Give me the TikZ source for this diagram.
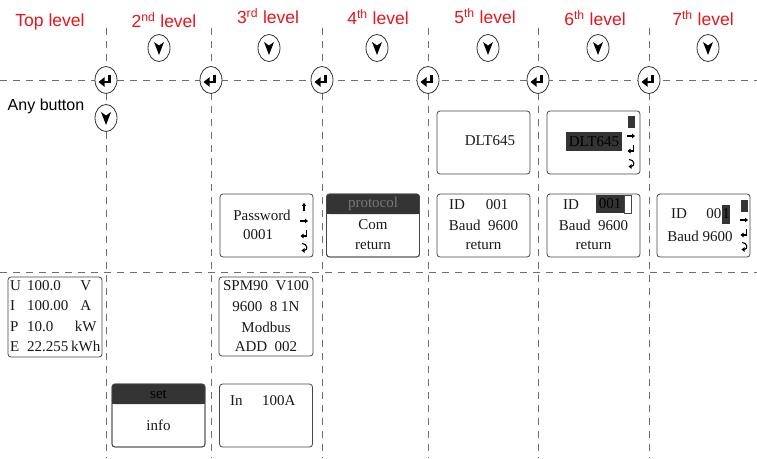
\documentclass[tikz,border=0pt]{standalone}
\usepackage{fontspec}
\setmainfont{Liberation Serif}
\newfontfamily\lsans{Liberation Sans}
\usetikzlibrary{shapes.geometric,arrows.meta}
\definecolor{lvred}{RGB}{230,22,28}
\definecolor{hdr}{RGB}{52,52,52}
\definecolor{gridc}{RGB}{110,110,110}
\definecolor{framec}{RGB}{70,70,70}
\definecolor{hdrtxt}{RGB}{120,120,120}
\begin{document}
\begin{tikzpicture}[x=1pt,y=-1pt,
  gridline/.style={draw=gridc, line width=0.9pt, dash pattern=on 7pt off 6pt},
  btn/.style={ellipse, draw=black!80, line width=0.8pt, fill=white, minimum width=22pt, minimum height=27pt, inner sep=0pt},
  lvl/.style={font=\lsans\fontsize{17.5}{20}\selectfont, text=lvred, inner sep=0pt},
  scr/.style={draw=framec, line width=0.8pt, rounded corners=3pt, fill=white, minimum width=93pt, minimum height=63pt, inner sep=0pt, outer sep=0pt},
  txt/.style={font=\fontsize{15}{18}\selectfont, text=black!90, inner sep=0pt},
  hl/.style={fill=hdr, inner sep=0pt},
  ic/.style={line width=1.1pt, -{Triangle[length=3pt,width=4.5pt]}},
  downbtn/.pic={\node[btn] (-e) at (0,0) {}; \fill (-5,-6) -- (0,7) -- (5,-6) -- (0,-2.5) -- cycle;},
  enterbtn/.pic={\node[btn] (-e) at (0,0) {}; \draw[line width=2.4pt] (3.5,-5.5) -- (3.5,2) -- (-2,2); \fill (-7.5,2) -- (-1.5,-2.8) -- (-1.5,6.8) -- cycle;},
  upic/.pic={\draw[ic] (0,4) -- (0,-4);},
  rpic/.pic={\draw[ic] (-4,0) -- (4,0);},
  retpic/.pic={\draw[ic] (2.5,-4) -- (2.5,2) -- (-3.5,2);},
  backpic/.pic={\draw[ic] (-2,-3.5) .. controls (4,-3.5) and (4,3.5) .. (-2.5,3.5);},
  blkpic/.pic={\fill[hdr] (-3.5,-6) rectangle (3.5,6);},
]
\useasboundingbox (0,0) rectangle (757,458);
\fill[white] (0,0) rectangle (757,458);

% grid
\foreach \x in {106,211,322,428,538,649} \draw[gridline] (\x,28) -- (\x,458);
\draw[gridline] (0,80) -- (757,80);
\draw[gridline] (0,272) -- (757,272);

% level titles
\node[lvl] (l1) at (50,22) {Top level};
\node[lvl] (l2) at (164,20) {2\textsuperscript{nd} level};
\node[lvl] (l3) at (268,16) {3\textsuperscript{rd} level};
\node[lvl] (l4) at (378,17) {4\textsuperscript{th} level};
\node[lvl] (l5) at (485,16) {5\textsuperscript{th} level};
\node[lvl] (l6) at (595,18) {6\textsuperscript{th} level};
\node[lvl] (l7) at (703,18) {7\textsuperscript{th} level};
\node[lvl, text=black, font=\lsans\fontsize{16}{18}\selectfont] (any) at (46,106) {Any button};

% buttons
\foreach \x/\n in {159/2,269/3,377/4,488/5,598/6,708/7} \pic (d\n) at (\x,48) {downbtn};
\pic (d1) at (106,118) {downbtn};
\foreach \x/\n in {106/1,211/2,322/3,428/4,538/5,649/6} \pic (e\n) at (\x,80) {enterbtn};

% top level box
\node[scr, minimum width=94pt, minimum height=80pt] (top) at (55,317) {};
\node[txt, anchor=west, font=\fontsize{15}{20.3}\selectfont] (toptxt) at (10,317)
 {\begin{tabular}{@{}p{17pt}@{}p{44pt}@{}c@{}}U & 100.0 & V\\ I & 100.00 & A\\ P & 10.0 & kW\\ E & 22.255 & kWh\end{tabular}};

% 2nd level: set / info
\node[scr] (setb) at (158.5,415.5) {};
\fill[hdr, rounded corners=3pt] (setb.north west) rectangle ([yshift=-20pt]setb.north east);
\fill[hdr] ([yshift=-10pt]setb.north west) rectangle ([yshift=-20pt]setb.north east);
\draw[framec, line width=0.8pt, rounded corners=3pt] (setb.north west) rectangle (setb.south east);
\node[txt, text=black] (sett) at (158.5,394) {set};
\node[txt] (infot) at (158.5,425) {info};

% 3rd level
\node[scr] (pw) at (266.5,225.5) {};
\node[txt] (pwt1) at (262,215) {Password};
\node[txt] (pwt2) at (258,235) {0001};
\pic at (304,207) {upic};
\pic at (304,221) {rpic};
\pic at (304,234) {retpic};
\pic at (304,247) {backpic};

\node[scr, minimum width=94pt, minimum height=79pt] (spm) at (266,316.5) {};
\node[txt] (spm1) at (266,286) {SPM90\ \ V100};
\node[txt] (spm2) at (266,306.5) {9600\ \ 8 1N};
\node[txt] (spm3) at (266,327) {Modbus};
\node[txt] (spm4) at (266,347) {ADD\ \ 002};

\node[scr] (inb) at (266,415.5) {};
\node[txt, anchor=west] (int1) at (230,401) {In};
\node[txt, anchor=west] (int2) at (262,401) {100A};

% 4th level
\node[scr] (prot) at (373,225.5) {};
\fill[hdr, rounded corners=3pt] (prot.north west) rectangle ([yshift=-20pt]prot.north east);
\fill[hdr] ([yshift=-10pt]prot.north west) rectangle ([yshift=-20pt]prot.north east);
\draw[framec, line width=0.8pt, rounded corners=3pt] (prot.north west) rectangle (prot.south east);
\node[txt, text=hdrtxt] (prott) at (373,203.5) {protocol};
\node[txt] (comt) at (373,225) {Com};
\node[txt] (rett4) at (373,245) {return};

% 5th level
\node[scr] (dlt5) at (483.5,142.5) {};
\node[txt] (dlt5t) at (490,141) {DLT645};
\node[scr] (id5) at (483.5,225.5) {};
\node[txt] (id5a) at (457,205) {ID};
\node[txt] (id5b) at (497,205) {001};
\node[txt] (id5c) at (483.5,225) {Baud\ \ 9600};
\node[txt] (id5d) at (483.5,245) {return};

% 6th level
\node[scr] (dlt6) at (593.5,142.5) {};
\node[txt, hl, minimum width=56pt, minimum height=19pt, text=black] (dlt6t) at (594,141.5) {DLT645};
\pic at (631,122) {blkpic};
\pic at (631,136) {rpic};
\pic at (631,149) {retpic};
\pic at (631,163) {backpic};

\node[scr] (id6) at (593.5,225.5) {};
\node[txt] (id6a) at (571,205) {ID};
\node[txt, hl, minimum width=28pt, minimum height=18pt, text=black] (id6b) at (610,204) {001};
\node[draw=framec, fill=white, line width=0.6pt, inner sep=0pt, minimum width=7pt, minimum height=18pt] (id6c) at (627.5,204) {};
\node[txt] (id6d) at (593.5,225) {Baud\ \ 9600};
\node[txt] (id6e) at (593.5,245) {return};

% 7th level
\node[scr] (id7) at (703.5,225.5) {};
\node[txt] (id7a) at (679,214) {ID};
\node[txt, anchor=east] (id7b) at (721.5,214) {00};
\node[txt, hl, minimum width=8pt, minimum height=19pt, text=black] (id7c) at (726,214) {1};
\node[txt] (id7d) at (700,236) {Baud 9600};
\pic at (744,206) {blkpic};
\pic at (744,220) {rpic};
\pic at (744,233) {retpic};
\pic at (744,246) {backpic};
\end{tikzpicture}
\end{document}
